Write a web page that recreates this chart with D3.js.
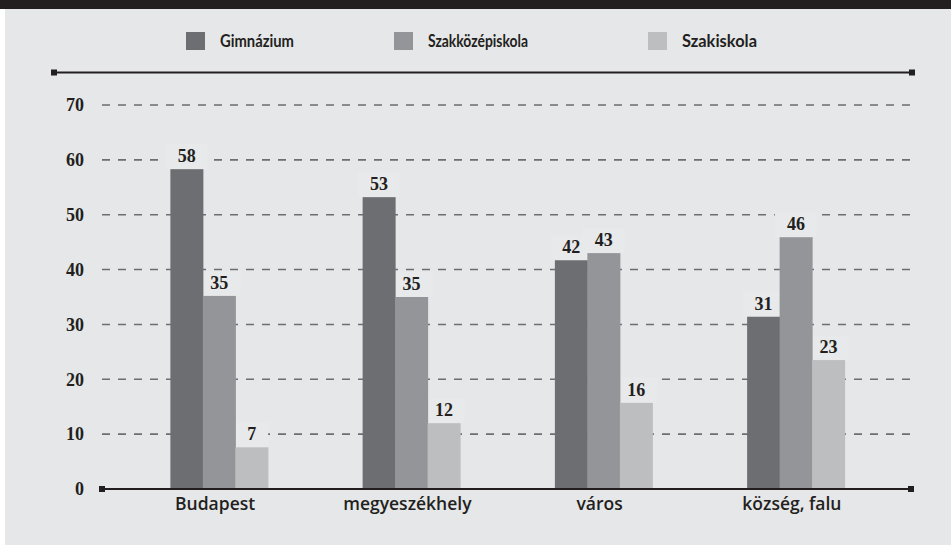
<!DOCTYPE html>
<html>
<head>
<meta charset="utf-8">
<script src="https://cdn.jsdelivr.net/npm/d3@7"></script>
<style>
  html, body { margin: 0; padding: 0; background: #fff; }
  svg { display: block; }
</style>
</head>
<body>
<div id="chart"></div>
<script>
// school type by settlement type
const categories = ['Budapest', 'megyeszékhely', 'város', 'község, falu'];
const series = ['Gimnázium', 'Szakközépiskola', 'Szakiskola'];
const gimnazium = [58.3, 53.2, 41.7, 31.4];
const szakkozep = [35.2, 35.0, 43.0, 45.9];
const szakiskola = [7.6, 12.0, 15.7, 23.5];
const valueLabels = [
  ['58', '35', '7'],
  ['53', '35', '12'],
  ['42', '43', '16'],
  ['31', '46', '23']
];
const yTicks = [0, 10, 20, 30, 40, 50, 60, 70];

const W = 951, H = 548;
const ink = '#231f20';
const bg = '#e6e7e8';
const colors = ['#6d6e71', '#939598', '#bcbec0'];

const svg = d3.select('#chart').append('svg')
  .attr('width', W).attr('height', H);

// background + top band
svg.append('rect').attr('x', 5).attr('y', 0).attr('width', W - 5).attr('height', 545).attr('fill', bg);
svg.append('rect').attr('x', 0).attr('y', 0).attr('width', W).attr('height', 9).attr('fill', ink);

const y = d3.scaleLinear().domain([0, 70]).range([489, 105]);
const x0 = d3.scaleBand().domain(categories).range([123, 892]).padding(0);
const groupW = 97.5;
const x1 = d3.scaleBand().domain(series).range([0, groupW]);

// legend (condensed look via textLength)
const legendX = [186, 394, 648];
const legendW = [74, 100, 75];
const legend = svg.append('g');
series.forEach((s, i) => {
  legend.append('rect')
    .attr('x', legendX[i]).attr('y', 32).attr('width', 19).attr('height', 18)
    .attr('fill', colors[i]);
  legend.append('text')
    .attr('x', legendX[i] + 34).attr('y', 47)
    .attr('font-family', 'Lato, sans-serif').attr('font-weight', 'bold')
    .attr('font-size', 16.5).attr('fill', ink)
    .attr('textLength', legendW[i]).attr('lengthAdjust', 'spacingAndGlyphs')
    .text(s);
});

// top rule
svg.append('line').attr('x1', 54).attr('x2', 912).attr('y1', 72.5).attr('y2', 72.5)
  .attr('stroke', ink).attr('stroke-width', 2);
svg.append('rect').attr('x', 51).attr('y', 69.5).attr('width', 6).attr('height', 6).attr('fill', ink);
svg.append('rect').attr('x', 909).attr('y', 69.5).attr('width', 6).attr('height', 6).attr('fill', ink);

// grid
svg.append('g')
  .selectAll('line')
  .data(yTicks.filter(d => d > 0))
  .join('line')
  .attr('x1', 102).attr('x2', 913)
  .attr('y1', d => y(d)).attr('y2', d => y(d))
  .attr('stroke', '#6d6e71').attr('stroke-width', 1.6)
  .attr('stroke-dasharray', '8,8');

// y axis labels
const yAxis = svg.append('g')
  .attr('transform', 'translate(100,0)')
  .call(d3.axisLeft(y).tickValues(yTicks).tickSize(0).tickPadding(16));
yAxis.select('.domain').remove();
yAxis.selectAll('text')
  .attr('font-family', '"Liberation Serif", serif').attr('font-weight', 'bold')
  .attr('font-size', 18).attr('fill', ink);

// bars
const rows = categories.map((c, i) => ({
  cat: c,
  vals: [gimnazium[i], szakkozep[i], szakiskola[i]],
  labels: valueLabels[i]
}));

const groups = svg.append('g')
  .selectAll('g')
  .data(rows)
  .join('g')
  .attr('transform', d => `translate(${x0(d.cat) + (x0.bandwidth() - groupW) / 2},0)`);

const items = d => d.vals.map((v, j) => ({ s: series[j], v, j, t: d.labels[j] }));

// knock-out boxes behind labels (under the bars)
groups.selectAll('rect.box')
  .data(items)
  .join('rect')
  .attr('class', 'box')
  .attr('x', d => x1(d.s) + x1.bandwidth() / 2 - (d.t.length * 9 + 24) / 2)
  .attr('y', d => y(d.v) - 25)
  .attr('width', d => d.t.length * 9 + 24)
  .attr('height', 25)
  .attr('fill', '#e8e9ea');

groups.selectAll('rect.bar')
  .data(items)
  .join('rect')
  .attr('class', 'bar')
  .attr('x', d => x1(d.s))
  .attr('y', d => y(d.v))
  .attr('width', x1.bandwidth() + 0.5)
  .attr('height', d => y(0) - y(d.v))
  .attr('fill', d => colors[d.j]);

groups.selectAll('text')
  .data(items)
  .join('text')
  .attr('x', d => x1(d.s) + x1.bandwidth() / 2)
  .attr('y', d => y(d.v) - 7)
  .attr('text-anchor', 'middle')
  .attr('font-family', '"Liberation Serif", serif').attr('font-weight', 'bold')
  .attr('font-size', 18).attr('fill', ink)
  .text(d => d.t);

// baseline
svg.append('line').attr('x1', 102).attr('x2', 912).attr('y1', y(0)).attr('y2', y(0))
  .attr('stroke', ink).attr('stroke-width', 2);
svg.append('rect').attr('x', 99).attr('y', y(0) - 3).attr('width', 6).attr('height', 6).attr('fill', ink);
svg.append('rect').attr('x', 908).attr('y', y(0) - 3).attr('width', 6).attr('height', 6).attr('fill', ink);

// category axis
const xAxis = svg.append('g')
  .attr('transform', `translate(-4,${y(0)})`)
  .call(d3.axisBottom(x0).tickSize(0).tickPadding(9));
xAxis.select('.domain').remove();
xAxis.selectAll('text')
  .attr('font-family', '"Open Sans", sans-serif').attr('font-weight', 600)
  .attr('font-size', 17.5).attr('fill', ink);
</script>
</body>
</html>
